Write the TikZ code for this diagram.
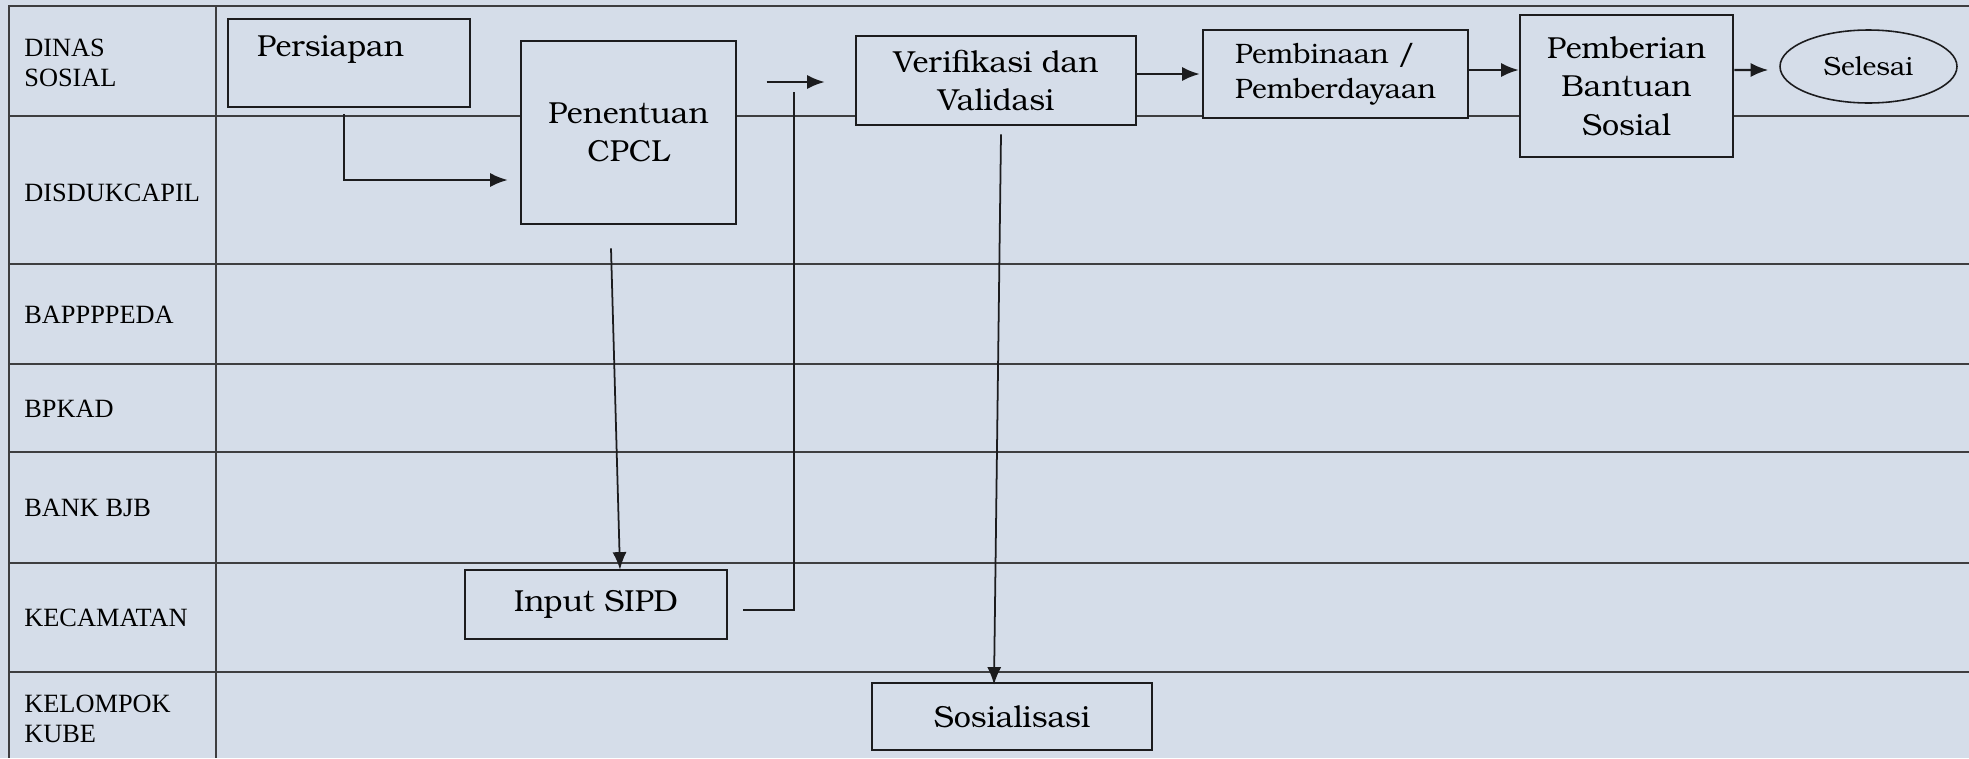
\documentclass[tikz,border=0pt]{standalone}
\usepackage{fontspec}
\setmainfont{Liberation Serif}
\newfontfamily\bookman{TeX Gyre Bonum}
\usetikzlibrary{calc,shapes.geometric,arrows.meta}
\definecolor{paper}{RGB}{213,221,233}
\definecolor{ink}{RGB}{28,28,30}

\begin{document}
\begin{tikzpicture}[x=0.02cm,y=-0.02cm,
        rule/.style={draw=ink!85,line width=1pt},
        lane/.style={anchor=west,inner sep=0pt,align=left,font=\fontsize{15}{17}\selectfont},
        proc/.style={draw=ink,line width=1.5pt,fill=paper,inner sep=0pt,align=center,font=\bookman\fontsize{17.3}{21.8}\selectfont},
        flow/.style={draw=ink,line width=1.2pt,-{Latex[length=10pt,width=8pt]}},
        link/.style={draw=ink,line width=1.1pt}]
    \fill[paper] (0,0) rectangle (1969,758);
    \useasboundingbox (0,0) rectangle (1969,758);
    % lanes
    \draw[rule] (1969,6) -| (9,758);
    \draw[rule] (216,6) -- (216,758);
    \foreach \y in {116,264,364,452,563,672}
        \draw[rule] (9,\y) -- (1969,\y);
    \foreach \y/\t [count=\i] in {63/{DINAS\\SOSIAL},193/DISDUKCAPIL,315/BAPPPPEDA,409/BPKAD,508/BANK BJB,618/KECAMATAN,719/{KELOMPOK\\KUBE}}
        \node[lane] (lane\i) at (24,\y) {\t};
    % steps
    \node[proc,minimum width=4.84cm,minimum height=1.76cm] (prep) at (349,63) {};
    \node[anchor=base west,inner sep=0pt,font=\bookman\fontsize{17.3}{20}\selectfont] (preptext) at ($(prep.north west)+(30,39)$) {Persiapan};
    \node[proc,minimum width=4.30cm,minimum height=3.66cm] (cpcl) at (628.5,132.5) {Penentuan\\CPCL};
    \node[proc,minimum width=5.60cm,minimum height=1.78cm] (verif) at (996,80.5) {Verifikasi dan\\Validasi};
    \node[proc,minimum width=5.30cm,minimum height=1.76cm,align=left,font=\bookman\fontsize{16}{20}\selectfont] (pemb) at (1335.5,74) {Pembinaan /\\Pemberdayaan};
    \node[proc,minimum width=4.26cm,minimum height=2.84cm] (bansos) at (1626.5,86) {Pemberian\\Bantuan\\Sosial};
    \node[proc,ellipse,line width=0.9pt,minimum width=3.54cm,minimum height=1.46cm,font=\bookman\fontsize{15}{18}\selectfont] (selesai) at (1868.5,66.5) {Selesai};
    \node[proc,minimum width=5.24cm,minimum height=1.38cm] (sipd) at (596,604.5) {Input SIPD};
    \node[proc,minimum width=5.60cm,minimum height=1.34cm] (sosial) at (1012,716.5) {Sosialisasi};
    % connectors
    \draw[flow] ($(prep.south)+(-5,6)$) |- ($(cpcl.west)+(-12,47.5)$);
    \draw[flow,line width=1pt] ($(cpcl.south)+(-17.5,23)$) -- ($(sipd.north)+(24,1)$);
    \draw[link] ($(sipd.east)+(15,5.5)$) -| ($(verif.west)+(-61,11.5)$);
    \draw[flow] ($(verif.west)+(-88,1.5)$) -- ($(verif.west)+(-30,1.5)$);
    \draw[flow] ($(verif.east)+(0,-6.5)$) -- ($(pemb.west)+(-2,0)$);
    \draw[flow] ($(pemb.east)+(0,-4)$) -- ($(bansos.west)+(0,-16)$);
    \draw[flow] ($(bansos.east)+(0,-16)$) -- ($(selesai.west)+(-11,3.5)$);
    \draw[flow,line width=1pt] ($(verif.south)+(5,8)$) -- ($(sosial.north)+(-18,3)$);
\end{tikzpicture}
\end{document}
